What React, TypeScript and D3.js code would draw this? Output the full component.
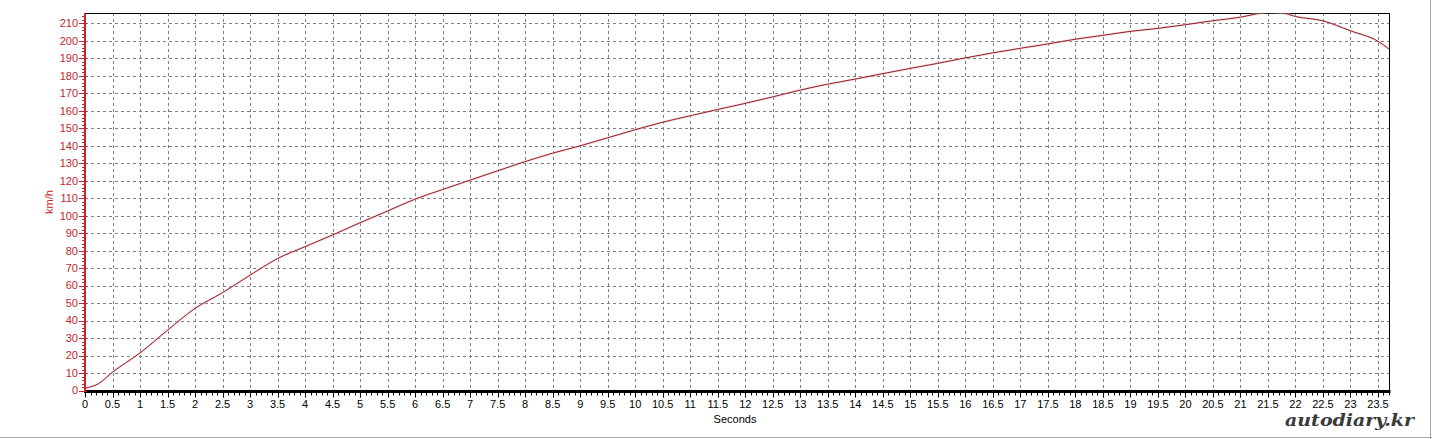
import React from "react";
import * as d3 from "d3";

const times = [0, 0.25, 0.5, 1, 1.5, 2, 2.5, 3, 3.5, 4, 4.5, 5, 5.5, 6, 6.5, 7, 7.5, 8, 8.5, 9, 9.5, 10, 10.5, 11, 11.5, 12, 12.5, 13, 13.5, 14, 14.5, 15, 15.5, 16, 16.5, 17, 17.5, 18, 18.5, 19, 19.5, 20, 20.5, 21, 21.25, 21.5, 21.75, 22, 22.5, 23, 23.5, 23.7];
const speeds = [1.3, 4, 10.5, 21.5, 34.5, 47, 56, 66, 75.5, 82.3, 89, 96, 102.7, 109.5, 115, 120.4, 125.7, 131, 135.8, 140, 144.6, 149.2, 153.5, 157.2, 160.8, 164.3, 168, 171.9, 175.3, 178.2, 181.3, 184.3, 187.2, 190.3, 193.2, 195.8, 198.3, 201, 203.2, 205.5, 207.2, 209.3, 211.6, 213.6, 215.2, 216.6, 216.2, 214, 211.5, 205.8, 199.8, 195.4];
const xTicks = d3.range(0, 23.51, 0.5);
const yTicks = d3.range(0, 210.1, 10);
const xLabel = "Seconds";
const yLabel = "km/h";
const watermark = "autodiary.kr";

const W = 1432, H = 439;
const L = 85, R = 1389, T = 13, B = 390.5;

export default function App() {
  const x = d3.scaleLinear().domain([0, 23.7]).range([L, R]);
  const y = d3.scaleLinear().domain([0, 216]).range([B, T]);
  const line = d3.line<number>()
    .x((_, i) => x(times[i]))
    .y((d) => y(d))
    .curve(d3.curveMonotoneX);
  const minorX = d3.range(0, 23.71, 0.1);
  const minorY = d3.range(0, 216, 2);
  const red = "#c0282d";
  const font = "'Liberation Sans', Arial, sans-serif";
  return (
    <svg width={W} height={H} style={{ position: "absolute", left: 0, top: 0, background: "#fff" }}>
      <rect x={0} y={0} width={W} height={H} fill="#fff" />
      <defs>
        <clipPath id="plot">
          <rect x={L} y={T} width={R - L} height={B - T} />
        </clipPath>
      </defs>
      {xTicks.filter((t) => t > 0).map((t) => (
        <line key={"gx" + t} x1={Math.round(x(t)) + 0.5} x2={Math.round(x(t)) + 0.5} y1={T} y2={B} stroke="#808080" strokeWidth={1} strokeDasharray="3,3" />
      ))}
      {yTicks.filter((t) => t > 0).map((t) => (
        <line key={"gy" + t} x1={L} x2={R} y1={Math.round(y(t)) + 0.5} y2={Math.round(y(t)) + 0.5} stroke="#808080" strokeWidth={1} strokeDasharray="3,3" />
      ))}
      <line x1={L} x2={R + 0.5} y1={T + 0.5} y2={T + 0.5} stroke="#000" strokeWidth={1} />
      <line x1={R + 0.5} x2={R + 0.5} y1={T} y2={B} stroke="#000" strokeWidth={1} />
      <path d={line(speeds) || ""} fill="none" stroke="#f6c8c8" strokeWidth={2.6} clipPath="url(#plot)" opacity={0.5} />
      <path d={line(speeds) || ""} fill="none" stroke="#8e1b25" strokeWidth={1} clipPath="url(#plot)" />
      <line x1={L - 1} x2={R + 1.5} y1={B + 1} y2={B + 1} stroke="#000" strokeWidth={3} />
      {minorX.map((t, i) => (
        <line key={"mx" + i} x1={Math.round(x(t)) + 0.5} x2={Math.round(x(t)) + 0.5} y1={B + 2} y2={B + 5} stroke="#000" strokeWidth={1} />
      ))}
      {xTicks.map((t) => (
        <line key={"tx" + t} x1={Math.round(x(t)) + 0.5} x2={Math.round(x(t)) + 0.5} y1={B + 2} y2={B + 7} stroke="#000" strokeWidth={1} />
      ))}
      {xTicks.map((t) => (
        <text key={"lx" + t} x={x(t)} y={408} textAnchor="middle" fontFamily={font} fontSize={11} fill="#000">{String(t)}</text>
      ))}
      <text x={735} y={423} textAnchor="middle" fontFamily={font} fontSize={11} fill="#000">{xLabel}</text>
      <line x1={L} x2={L} y1={T} y2={B + 1} stroke={red} strokeWidth={2} />
      {minorY.map((v, i) => (
        <line key={"my" + i} x1={L - 3} x2={L + 1} y1={Math.round(y(v)) + 0.5} y2={Math.round(y(v)) + 0.5} stroke={red} strokeWidth={1} />
      ))}
      {yTicks.map((v) => (
        <line key={"ty" + v} x1={L - 6} x2={L + 2} y1={Math.round(y(v)) + 0.5} y2={Math.round(y(v)) + 0.5} stroke={red} strokeWidth={1} />
      ))}
      {yTicks.map((v) => (
        <text key={"ly" + v} x={78} y={y(v)} dy="0.35em" textAnchor="end" fontFamily={font} fontSize={11} fill={red}>{String(v)}</text>
      ))}
      <text transform={`translate(53,202) rotate(-90)`} textAnchor="middle" fontFamily={font} fontSize={11} fill={red}>{yLabel}</text>
      <text x={1285} y={426} fontFamily="'DejaVu Serif', serif" fontWeight="bold" fontStyle="italic" fontSize={17} fill="#3a3a3a" textLength={129} lengthAdjust="spacingAndGlyphs">{watermark}</text>
      <line x1={0} x2={W} y1={H - 1.5} y2={H - 1.5} stroke="#a8a8a8" strokeWidth={1} />
      <line x1={W - 1.5} x2={W - 1.5} y1={0} y2={H} stroke="#a8a8a8" strokeWidth={1} />
    </svg>
  );
}
